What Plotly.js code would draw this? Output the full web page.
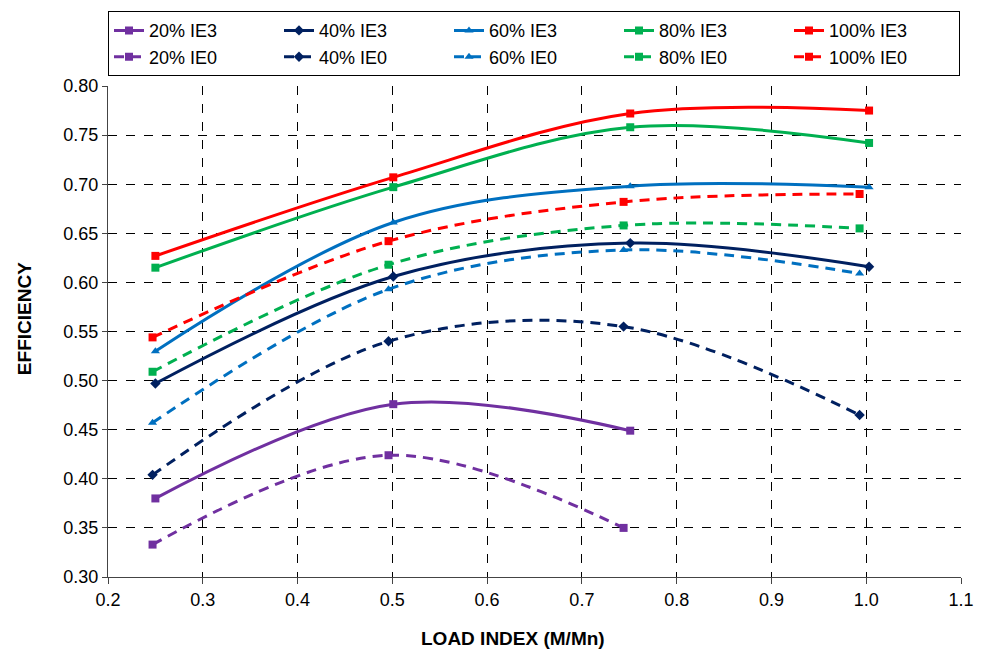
<!DOCTYPE html>
<html><head><meta charset="utf-8">
<script src="https://cdn.plot.ly/plotly-3.0.1.min.js"></script>
<style>html,body{margin:0;padding:0;background:#fff}#chart{width:981px;height:651px}</style>
</head><body><div id="chart"></div>
<script>
const xIE3 = [0.25, 0.501, 0.751, 1.003];
const xIE0 = [0.247, 0.496, 0.744, 0.993];
const names = ["20%", "40%", "60%", "80%", "100%"];
const colors = ["#7030A0", "#002060", "#0070C0", "#00B050", "#FF0000"];
const symbolsIE3 = ["square", "diamond", "triangle-up", "square", "square"];
const symbolsIE0 = ["square", "diamond", "triangle-up", "square", "square"];
const ie3 = [
  [0.380, 0.476, 0.449],
  [0.497, 0.606, 0.640, 0.616],
  [0.530, 0.661, 0.698, 0.697],
  [0.615, 0.697, 0.758, 0.742],
  [0.627, 0.707, 0.772, 0.775]
];
const ie0 = [
  [0.333, 0.424, 0.350],
  [0.404, 0.540, 0.555, 0.465],
  [0.457, 0.593, 0.633, 0.609],
  [0.509, 0.618, 0.658, 0.655],
  [0.544, 0.642, 0.682, 0.690]
];
const xTitle = "LOAD INDEX (M/Mn)";
const yTitle = "EFFICIENCY";
const traces = [];
for (let i = 0; i < 5; i++) {
  traces.push({
    x: xIE3.slice(0, ie3[i].length), y: ie3[i], name: names[i] + " IE3",
    mode: "lines+markers", type: "scatter",
    line: {color: colors[i], width: 3, shape: "spline", smoothing: 1},
    marker: {color: colors[i], symbol: symbolsIE3[i], size: 8},
    legendrank: i + 1
  });
}
for (let i = 0; i < 5; i++) {
  traces.push({
    x: xIE0.slice(0, ie0[i].length), y: ie0[i], name: names[i] + " IE0",
    mode: "lines+markers", type: "scatter",
    line: {color: colors[i], width: 3, shape: "spline", smoothing: 1, dash: "10px,7px"},
    marker: {color: colors[i], symbol: symbolsIE0[i], size: 8},
    legendrank: i + 6
  });
}
const font = "Liberation Sans, Arial, sans-serif";
const layout = {
  width: 981, height: 651,
  margin: {l: 108, r: 20, t: 85, b: 74},
  paper_bgcolor: "#fff", plot_bgcolor: "#fff",
  font: {family: font, size: 19, color: "#000"},
  showlegend: true,
  legend: {
    orientation: "h", x: 0.0, xanchor: "left", y: 1.15, yanchor: "top",
    xref: "paper", entrywidth: 125, tracegroupgap: 0,
    bordercolor: "#000", borderwidth: 1, bgcolor: "#fff",
    font: {family: font, size: 18, color: "#000"}, itemwidth: 30
  },
  xaxis: {
    range: [0.2, 1.1], dtick: 0.1, tick0: 0.2, tickformat: ".1f",
    showgrid: true, gridcolor: "#000", griddash: "dash", gridwidth: 1,
    showline: true, linecolor: "#444", linewidth: 1,
    ticks: "outside", ticklen: 6, tickcolor: "#444",
    zeroline: false, fixedrange: true,
    tickfont: {family: font, size: 18}
  },
  yaxis: {
    range: [0.30, 0.80], dtick: 0.05, tick0: 0.30, tickformat: ".2f",
    showgrid: true, gridcolor: "#000", griddash: "dash", gridwidth: 1,
    showline: true, linecolor: "#444", linewidth: 1,
    ticks: "outside", ticklen: 5, tickcolor: "#444",
    zeroline: false, fixedrange: true,
    tickfont: {family: font, size: 18}
  },
  annotations: [
    {text: "<b>" + xTitle + "</b>", xref: "paper", yref: "paper", x: 0.475, y: -0.125,
     xanchor: "center", yanchor: "middle", showarrow: false, font: {family: font, size: 19}},
    {text: "<b>" + yTitle + "</b>", xref: "paper", yref: "paper", x: -0.098, y: 0.526,
     xanchor: "center", yanchor: "middle", textangle: -90, showarrow: false, font: {family: font, size: 19}}
  ]
};
Plotly.newPlot("chart", traces, layout, {displayModeBar: false, staticPlot: true});
</script></body></html>
